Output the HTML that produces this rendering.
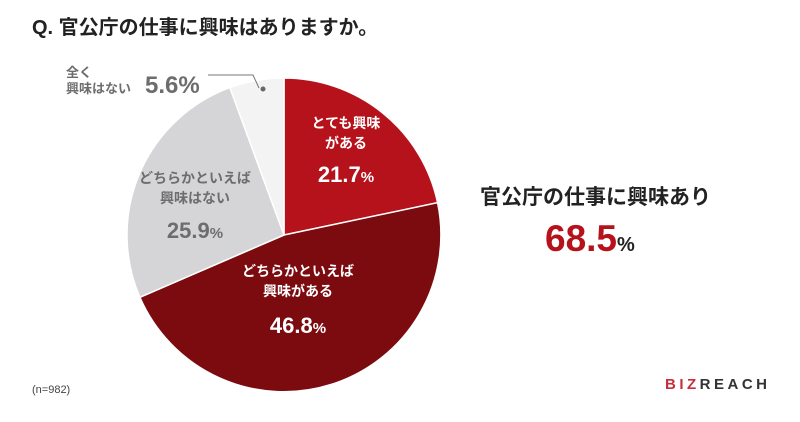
<!DOCTYPE html>
<html><head><meta charset="utf-8"><style>
body{margin:0;width:800px;height:417px;background:#fff;overflow:hidden;font-family:"Liberation Sans","Noto Sans CJK JP",sans-serif;}
</style></head><body>
<svg width="800" height="417" xmlns="http://www.w3.org/2000/svg" style="font-family:'Liberation Sans','Noto Sans CJK JP',sans-serif;font-weight:bold">
<text x="32" y="34" font-size="20" fill="#222">Q. 官公庁の仕事に興味はありますか。</text>
<g stroke="#fff" stroke-width="1.5">
<path d="M284,235 L284,78 A157,157 0 0 1 437.6,202.7 Z" fill="#b5121b"/>
<path d="M284,235 L437.6,202.7 A157,157 0 0 1 139.9,297.3 Z" fill="#7b0b0f"/>
<path d="M284,235 L139.9,297.3 A157,157 0 0 1 229.9,87.6 Z" fill="#d5d5d7"/>
<path d="M284,235 L229.9,87.6 A157,157 0 0 1 284,78 Z" fill="#f3f3f3"/>
</g>
<g fill="#fff" text-anchor="middle">
<text x="346" y="128" font-size="14">とても興味</text>
<text x="346" y="148" font-size="14">がある</text>
<text x="346" y="182" font-size="22">21.7<tspan font-size="15">%</tspan></text>
<text x="298" y="276" font-size="14">どちらかといえば</text>
<text x="298" y="296" font-size="14">興味がある</text>
<text x="298" y="333" font-size="22">46.8<tspan font-size="15">%</tspan></text>
</g>
<g fill="#6d6d6d" text-anchor="middle">
<text x="195" y="183" font-size="14">どちらかといえば</text>
<text x="195" y="203" font-size="14">興味はない</text>
<text x="195" y="238" font-size="22">25.9<tspan font-size="15">%</tspan></text>
</g>
<g fill="#6d6d6d">
<text x="66" y="77" font-size="13">全く</text>
<text x="66" y="93" font-size="13">興味はない</text>
<text x="145" y="93" font-size="24">5.6%</text>
</g>
<polyline points="208,75 253,75 259,88" fill="none" stroke="#777" stroke-width="1"/>
<circle cx="263" cy="89" r="2.5" fill="#666"/>
<text x="480" y="204" font-size="21" fill="#222">官公庁の仕事に興味あり</text>
<text x="545" y="251" font-size="37" fill="#b5121b">68.5<tspan font-size="20" fill="#222">%</tspan></text>
<text x="32" y="393" font-size="11" fill="#444" font-weight="normal">(n=982)</text>
<text x="665" y="389" font-size="15" letter-spacing="3.5" fill="#c6303b">BIZ<tspan fill="#333">REACH</tspan></text>
</svg>
</body></html>
